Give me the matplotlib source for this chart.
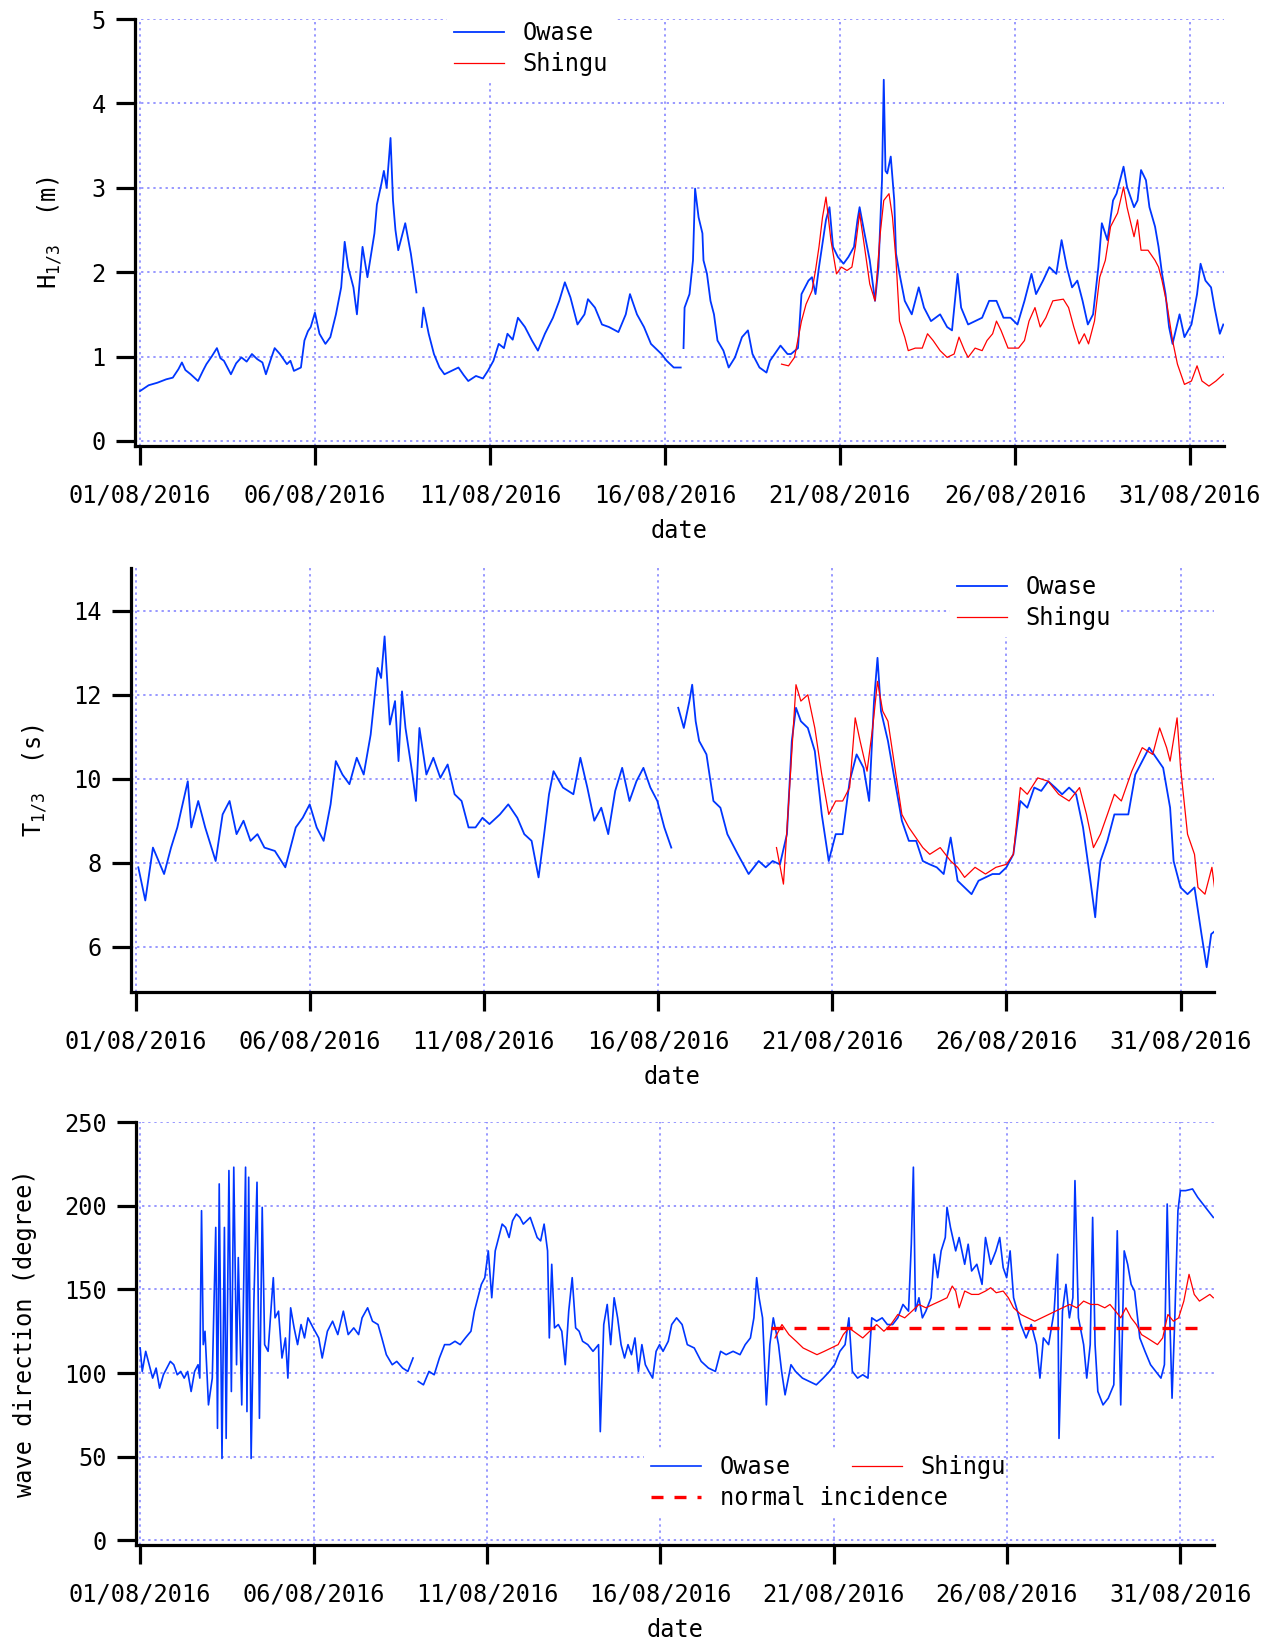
import numpy as np
import matplotlib.pyplot as plt

plt.rcParams['font.family'] = 'DejaVu Sans Mono'
plt.rcParams['font.size'] = 17
plt.rcParams['mathtext.fontset'] = 'custom'
plt.rcParams['mathtext.tt'] = 'DejaVu Sans Mono'
plt.rcParams['mathtext.rm'] = 'DejaVu Sans Mono'

nan = np.nan

# x axis: days since 01/08/2016 00:00
date_ticks = [0, 5, 10, 15, 20, 25, 30]
date_labels = ['01/08/2016', '06/08/2016', '11/08/2016', '16/08/2016',
               '21/08/2016', '26/08/2016', '31/08/2016']

# --- significant wave height H1/3 (m) ---
t_h_owase = [0.0, 0.25, 0.5, 0.75, 0.94, 1.1, 1.2, 1.3, 1.45, 1.66, 1.8, 1.9, 2.05, 2.2, 2.3,
             2.4, 2.6, 2.75, 2.9, 3.05, 3.2, 3.35, 3.5, 3.6, 3.75, 3.85, 4.0, 4.2, 4.3, 4.4,
             4.6, 4.7, 4.8, 4.88, 5.0, 5.13, 5.3, 5.44, 5.6, 5.75, 5.85, 5.95, 6.1, 6.2, 6.36,
             6.5, 6.6, 6.7, 6.77, 6.9, 6.97, 7.05, 7.16, 7.23, 7.3, 7.38, 7.5, 7.58, 7.74, 7.9,
             7.95, 8.05, 8.1, 8.25, 8.4, 8.56, 8.7, 8.9, 9.1, 9.25, 9.38, 9.6, 9.8, 9.94, 10.1,
             10.25, 10.4, 10.5, 10.65, 10.8, 11.0, 11.2, 11.37, 11.57, 11.8, 11.98, 12.14, 12.3,
             12.5, 12.7, 12.8, 13.0, 13.2, 13.4, 13.67, 13.88, 14.0, 14.2, 14.4, 14.6, 14.9,
             15.05, 15.25, 15.45, 15.5, 15.53, 15.56, 15.7, 15.8, 15.86, 15.96, 16.07, 16.1,
             16.2, 16.3, 16.4, 16.5, 16.67, 16.82, 17.0, 17.2, 17.37, 17.5, 17.7, 17.9, 18.0,
             18.2, 18.3, 18.5, 18.6, 18.8, 18.9, 19.1, 19.2, 19.3, 19.4, 19.6, 19.7, 19.8,
             19.94, 20.1, 20.24, 20.4, 20.5, 20.56, 20.7, 20.85, 21.0, 21.1, 21.2, 21.25, 21.3,
             21.35, 21.45, 21.55, 21.6, 21.7, 21.85, 22.05, 22.25, 22.4, 22.6, 22.86, 23.06,
             23.2, 23.36, 23.46, 23.66, 23.86, 24.06, 24.26, 24.47, 24.67, 24.87, 25.07, 25.27,
             25.47, 25.6, 25.8, 25.98, 26.18, 26.33, 26.48, 26.63, 26.78, 26.93, 27.08, 27.23,
             27.38, 27.48, 27.64, 27.8, 27.9, 28.1, 28.2, 28.4, 28.5, 28.6, 28.74, 28.84, 29.0,
             29.1, 29.2, 29.3, 29.4, 29.5, 29.7, 29.84, 30.04, 30.2, 30.3, 30.44, 30.6, 30.7,
             30.85, 30.95]
h_owase = [0.59, 0.66, 0.69, 0.73, 0.75, 0.85, 0.93, 0.84, 0.79, 0.71, 0.83, 0.91, 1.0, 1.1, 0.98,
           0.95, 0.79, 0.92, 0.99, 0.94, 1.03, 0.97, 0.93, 0.79, 0.98, 1.1, 1.03, 0.91, 0.95, 0.83,
           0.87, 1.19, 1.3, 1.35, 1.52, 1.27, 1.15, 1.23, 1.5, 1.82, 2.36, 2.06, 1.82, 1.5, 2.3,
           1.94, 2.2, 2.46, 2.8, 3.05, 3.2, 3.0, 3.59, 2.85, 2.5, 2.26, 2.45, 2.58, 2.22, 1.76,
           nan, 1.35, 1.58, 1.27, 1.03, 0.87, 0.79, 0.83, 0.87, 0.78, 0.71, 0.77, 0.74, 0.83, 0.95,
           1.15, 1.1, 1.27, 1.2, 1.46, 1.35, 1.19, 1.07, 1.27, 1.46, 1.66, 1.88, 1.7,
           1.38, 1.5, 1.68, 1.58, 1.38, 1.35, 1.29, 1.5, 1.74, 1.5, 1.35, 1.15, 1.03,
           0.95, 0.87, 0.87, nan, 1.1, 1.58, 1.74, 2.14, 2.99, 2.65, 2.46, 2.14,
           1.98, 1.66, 1.5, 1.19, 1.07, 0.87, 0.99, 1.23, 1.31, 1.03, 0.87, 0.81, 0.95,
           1.07, 1.13, 1.03, 1.03, 1.1, 1.74, 1.9, 1.94, 1.74, 2.06, 2.62, 2.77, 2.3,
           2.18, 2.1, 2.18, 2.3, 2.62, 2.77, 2.46, 2.14, 1.66, 2.06, 3.09, 4.28, 3.2,
           3.17, 3.37, 2.85, 2.22, 1.98, 1.66, 1.5, 1.82, 1.58, 1.42, 1.5, 1.35,
           1.31, 1.98, 1.58, 1.38, 1.42, 1.46, 1.66, 1.66, 1.46, 1.46, 1.38, 1.66,
           1.98, 1.74, 1.9, 2.06, 1.98, 2.38, 2.06, 1.82, 1.9, 1.66, 1.38, 1.5,
           2.06, 2.58, 2.38, 2.85, 2.93, 3.25, 3.01, 2.77, 2.85, 3.21, 3.09, 2.77, 2.54,
           2.3, 1.98, 1.74, 1.35, 1.15, 1.5, 1.23, 1.38, 1.74, 2.1, 1.9, 1.82, 1.58,
           1.27, 1.38]

t_h_shingu = [18.33, 18.53, 18.7, 18.9, 19.03, 19.2, 19.3, 19.4, 19.5, 19.6, 19.74, 19.9, 20.04,
              20.2, 20.34, 20.44, 20.56, 20.7, 20.85, 21.0, 21.15, 21.25, 21.4, 21.5, 21.6, 21.7,
              21.85, 21.95, 22.15, 22.35, 22.5, 22.66, 22.86, 23.06, 23.26, 23.4, 23.56, 23.66,
              23.86, 24.06, 24.2, 24.36, 24.47, 24.6, 24.8, 24.97, 25.1, 25.27, 25.4, 25.57,
              25.72, 25.88, 26.08, 26.38, 26.53, 26.68, 26.83, 26.98, 27.1, 27.27, 27.42, 27.58,
              27.73, 27.93, 28.1, 28.2, 28.4, 28.5, 28.6, 28.8, 29.0, 29.1, 29.2, 29.34, 29.5,
              29.64, 29.84, 30.04, 30.2, 30.34, 30.54, 30.74, 30.95]
h_shingu = [0.91, 0.89, 0.99, 1.42, 1.62, 1.78, 2.02, 2.3, 2.65, 2.89, 2.38, 1.98, 2.06,
            2.02, 2.06, 2.3, 2.7, 2.3, 1.86, 1.66, 2.46, 2.85, 2.93, 2.65, 2.14, 1.42,
            1.23, 1.07, 1.1, 1.1, 1.27, 1.19, 1.07, 0.99, 1.03, 1.23, 1.07, 0.99,
            1.1, 1.07, 1.19, 1.27, 1.42, 1.31, 1.1, 1.1, 1.1, 1.19, 1.42, 1.58,
            1.35, 1.46, 1.66, 1.68, 1.58, 1.35, 1.15, 1.27, 1.15, 1.42, 1.94, 2.14,
            2.54, 2.7, 3.01, 2.77, 2.42, 2.62, 2.26, 2.26, 2.14, 2.06, 1.9, 1.62, 1.19,
            0.91, 0.67, 0.71, 0.89, 0.71, 0.65, 0.71, 0.79]

# --- significant wave period T1/3 (s) ---
t_t_owase = [0.08, 0.28, 0.5, 0.82, 1.02, 1.2, 1.5, 1.6, 1.8, 2.0, 2.3, 2.5, 2.7, 2.9, 3.1, 3.3,
             3.5, 3.7, 4.0, 4.3, 4.6, 4.8, 5.0, 5.2, 5.4, 5.6, 5.75, 5.94, 6.14, 6.35, 6.55, 6.75,
             6.95, 7.05, 7.15, 7.3, 7.45, 7.55, 7.65, 7.75, 7.95, 8.05, 8.15, 8.35, 8.55, 8.75,
             8.96, 9.16, 9.36, 9.56, 9.76, 9.96, 10.16, 10.46, 10.7, 10.96, 11.16, 11.37, 11.57,
             11.73, 11.87, 12.0, 12.27, 12.57, 12.77, 12.97, 13.17, 13.37, 13.57, 13.77, 13.97,
             14.18, 14.38, 14.58, 14.78, 14.98, 15.18, 15.38, 15.48, 15.58, 15.74, 15.9, 15.98,
             16.08, 16.18, 16.39, 16.59, 16.79, 16.99, 17.29, 17.6, 17.89, 18.09, 18.29, 18.5,
             18.7, 18.84, 18.96, 19.1, 19.3, 19.5, 19.7, 19.9, 20.1, 20.3, 20.5, 20.7, 20.9,
             21.06, 21.2, 21.3, 21.4, 21.6, 21.8, 22.0, 22.2, 22.41, 22.6, 22.8, 23.0, 23.2,
             23.4, 23.6, 23.8, 24.0, 24.2, 24.4, 24.6, 24.8, 25.0, 25.2, 25.4, 25.6, 25.8, 26.0,
             26.2, 26.4, 26.6, 26.8, 27.0, 27.2, 27.4, 27.55, 27.6, 27.7, 27.9, 28.1, 28.3, 28.5,
             28.7, 28.9, 29.1, 29.3, 29.5, 29.7, 29.8, 30.0, 30.2, 30.4, 30.6, 30.75, 30.88, 31.0]
t_owase = [7.89, 7.1, 8.36, 7.73, 8.36, 8.84, 9.94, 8.84, 9.47, 8.84, 8.04, 9.15, 9.47, 8.68, 9.0,
           8.52, 8.68, 8.36, 8.28, 7.89, 8.84, 9.07, 9.39, 8.84, 8.52, 9.39, 10.42, 10.1, 9.87, 10.5,
           10.1, 11.05, 12.64, 12.4, 13.39, 11.29, 11.85, 10.42, 12.08, 11.21, 10.1, 9.47, 11.21,
           10.1, 10.5, 10.02, 10.34, 9.63, 9.47, 8.84, 8.84, 9.07, 8.92, 9.15, 9.39, 9.07, 8.68,
           8.52, 7.65, 8.68, 9.63, 10.18, 9.79, 9.63, 10.5, 9.79, 9.0, 9.31, 8.68, 9.71, 10.26,
           9.47, 9.94, 10.26, 9.79, 9.47, 8.84, 8.36, nan, 11.69, 11.21, 11.85, 12.24, 11.37,
           10.9, 10.58, 9.47, 9.31, 8.68, 8.2, 7.73, 8.04, 7.89, 8.04, 7.96, 8.68, 10.9, 11.69,
           11.37, 11.21, 10.66, 9.15, 8.04, 8.68, 8.68, 9.94, 10.58, 10.26, 9.47, 11.85, 12.88,
           11.61, 10.9, 9.94, 9.0, 8.52, 8.52, 8.04, 7.96, 7.89, 7.73, 8.6, 7.57, 7.41, 7.25,
           7.57, 7.65, 7.73, 7.73, 7.89, 8.2, 9.47, 9.31, 9.79, 9.71, 9.94, 9.79, 9.63, 9.79,
           9.63, 8.84, 7.65, 6.7, 7.25, 8.04, 8.52, 9.15, 9.15, 9.15, 10.1, 10.42, 10.74, 10.5,
           10.26, 9.31, 8.04, 7.41, 7.25, 7.41, 6.3, 5.51, 6.3, 6.38]

t_t_shingu = [18.4, 18.6, 18.8, 18.96, 19.1, 19.3, 19.5, 19.7, 19.9, 20.1, 20.3, 20.5, 20.66,
              20.8, 21.0, 21.16, 21.3, 21.45, 21.6, 21.8, 22.0, 22.2, 22.4, 22.6, 22.8, 23.1,
              23.4, 23.6, 23.8, 24.1, 24.4, 24.7, 25.0, 25.2, 25.4, 25.6, 25.9, 26.2, 26.5,
              26.8, 27.1, 27.3, 27.5, 27.7, 27.9, 28.1, 28.3, 28.6, 28.9, 29.2, 29.4, 29.6,
              29.7, 29.9, 30.0, 30.2, 30.4, 30.5, 30.7, 30.9, 31.0]
t_shingu = [8.36, 7.49, 10.1, 12.24, 11.85, 12.0, 11.21, 10.1, 9.15, 9.47, 9.47, 9.79, 11.45,
            10.9, 10.18, 11.21, 12.32, 11.61, 11.37, 10.26, 9.15, 8.84, 8.6, 8.36, 8.2, 8.36,
            8.04, 7.89, 7.65, 7.89, 7.73, 7.89, 7.96, 8.2, 9.79, 9.63, 10.02, 9.94, 9.63,
            9.47, 9.79, 9.15, 8.36, 8.68, 9.15, 9.63, 9.47, 10.18, 10.74, 10.58, 11.21, 10.74,
            10.42, 11.45, 10.26, 8.68, 8.2, 7.41, 7.25, 7.89, 7.25]

# --- wave direction (degree) ---
t_d_owase = [0.0, 0.06, 0.16, 0.26, 0.36, 0.46, 0.56, 0.67, 0.77, 0.87, 0.97, 1.07, 1.17, 1.27,
             1.37, 1.47, 1.57, 1.67, 1.72, 1.77, 1.82, 1.87, 1.97, 2.08, 2.18, 2.23, 2.28, 2.36,
             2.43, 2.48, 2.56, 2.63, 2.7, 2.78, 2.83, 2.93, 3.04, 3.08, 3.13, 3.2, 3.28, 3.37,
             3.44, 3.52, 3.59, 3.69, 3.79, 3.84, 3.89, 3.99, 4.09, 4.19, 4.26, 4.34, 4.44, 4.54,
             4.64, 4.74, 4.84, 4.99, 5.15, 5.25, 5.4, 5.55, 5.7, 5.86, 6.0, 6.16, 6.3, 6.4, 6.56,
             6.7, 6.86, 6.97, 7.1, 7.27, 7.4, 7.57, 7.72, 7.87, 7.95, 8.02, 8.17, 8.33, 8.48,
             8.63, 8.78, 8.93, 9.08, 9.23, 9.38, 9.54, 9.64, 9.74, 9.84, 9.94, 10.04, 10.14,
             10.24, 10.34, 10.44, 10.54, 10.64, 10.74, 10.85, 10.95, 11.05, 11.15, 11.25, 11.35,
             11.45, 11.55, 11.65, 11.75, 11.8, 11.87, 11.95, 12.06, 12.16, 12.26, 12.36, 12.46,
             12.56, 12.66, 12.76, 12.91, 13.06, 13.22, 13.27, 13.37, 13.47, 13.57, 13.67, 13.77,
             13.87, 13.97, 14.07, 14.17, 14.27, 14.37, 14.47, 14.57, 14.67, 14.78, 14.88, 14.98,
             15.08, 15.23, 15.33, 15.47, 15.63, 15.78, 15.98, 16.18, 16.39, 16.59, 16.74, 16.9,
             17.1, 17.3, 17.45, 17.6, 17.7, 17.78, 17.85, 17.95, 18.06, 18.16, 18.26, 18.41,
             18.5, 18.6, 18.77, 18.9, 19.1, 19.3, 19.5, 19.7, 19.88, 20.03, 20.18, 20.33, 20.44,
             20.54, 20.69, 20.84, 20.99, 21.1, 21.24, 21.4, 21.55, 21.7, 21.85, 22.0, 22.16,
             22.24, 22.3, 22.36, 22.46, 22.56, 22.66, 22.81, 22.9, 23.0, 23.1, 23.22, 23.27,
             23.37, 23.52, 23.62, 23.78, 23.88, 23.98, 24.13, 24.28, 24.38, 24.53, 24.68, 24.79,
             24.89, 24.99, 25.09, 25.19, 25.3, 25.4, 25.55, 25.7, 25.85, 25.95, 26.05, 26.2,
             26.36, 26.46, 26.5, 26.6, 26.7, 26.8, 26.9, 26.96, 27.06, 27.21, 27.3, 27.4, 27.47,
             27.54, 27.62, 27.77, 27.92, 28.08, 28.18, 28.28, 28.38, 28.48, 28.58, 28.68, 28.83,
             28.98, 29.14, 29.29, 29.44, 29.54, 29.62, 29.69, 29.76, 29.84, 29.93, 30.0, 30.15,
             30.35, 30.5, 30.65, 30.8, 30.95]
d_owase = [115, 101, 113, 105, 97, 103, 91, 99, 103, 107, 105, 99, 101, 97,
           101, 89, 101, 105, 97, 197, 117, 125, 81, 97, 187, 67, 213, 49,
           187, 61, 221, 89, 223, 105, 169, 81, 223, 77, 217, 49, 143, 214,
           73, 199, 117, 113, 143, 157, 133, 137, 109, 121, 97, 139, 127, 117,
           129, 121, 133, 127, 121, 109, 125, 131, 123, 137, 123, 127, 123, 133, 139,
           131, 129, 121, 111, 105, 107, 103, 101, 109, nan, 95, 93, 101, 99,
           109, 117, 117, 119, 117, 121, 125, 137, 145, 153, 157, 173, 145,
           173, 181, 189, 187, 181, 191, 195, 193, 189, 191, 193, 187,
           181, 179, 189, 173, 121, 165, 127, 129, 125, 105, 137, 157,
           127, 125, 119, 117, 113, 117, 65, 129, 141, 117, 145, 133,
           117, 109, 117, 111, 121, 101, 117, 105, 101, 97, 113, 117,
           113, 119, 129, 133, 129, 117, 115, 107, 103, 101, 113, 111,
           113, 111, 117, 121, 133, 157, 145, 133, 81, 117, 133, 117,
           101, 87, 105, 101, 97, 95, 93, 97, 101, 105, 113, 117, 133,
           101, 97, 99, 97, 133, 131, 133, 129, 129, 133, 141, 137,
           177, 223, 137, 145, 133, 137, 145, 171, 157, 173, 181, 199,
           187, 173, 181, 165, 177, 161, 165, 153, 181, 165, 173, 181,
           163, 157, 173, 145, 137, 129, 121, 129, 117, 97, 121, 117,
           137, 171, 61, 137, 153, 133, 145, 215, 133, 117, 97, 117, 193,
           117, 89, 81, 85, 93, 185, 81, 173, 165, 153, 149, 121,
           113, 105, 101, 97, 105, 201, 137, 85, 133, 197, 209, 209,
           210, 205, 201, 197, 193]

t_d_shingu = [18.31, 18.51, 18.71, 18.92, 19.12, 19.32, 19.52, 19.73, 19.93, 20.13, 20.28, 20.44,
              20.64, 20.84, 21.04, 21.24, 21.45, 21.65, 21.85, 22.05, 22.26, 22.46, 22.66,
              22.86, 23.07, 23.27, 23.42, 23.52, 23.62, 23.78, 23.98, 24.18, 24.38, 24.53,
              24.69, 24.89, 25.04, 25.19, 25.4, 25.6, 25.8, 26.0, 26.2, 26.4, 26.6, 26.81,
              27.01, 27.21, 27.42, 27.62, 27.82, 27.97, 28.13, 28.28, 28.43, 28.58, 28.73,
              28.88, 29.04, 29.19, 29.34, 29.49, 29.64, 29.8, 29.95, 30.1, 30.25, 30.4, 30.55,
              30.7, 30.85, 30.95]
d_shingu = [121, 129, 123, 119, 115, 113, 111, 113, 115, 117, 123, 127,
            124, 121, 125, 129, 125, 129, 135, 133, 137, 141, 139,
            141, 143, 145, 152, 149, 139, 149, 147, 147, 149, 151,
            148, 149, 145, 139, 135, 133, 131, 133, 135, 137, 139, 141,
            139, 143, 141, 141, 139, 141, 137, 133, 139, 133, 129,
            123, 121, 119, 117, 121, 135, 131, 133, 143, 159, 147, 143,
            145, 147, 145]

t_normal = [18.2, 30.7]
d_normal = [127, 127]

BLUE = '#0036ff'
RED = '#ff0000'
GRID = '#7c7cff'
W, H = 1279, 1645

fig = plt.figure(figsize=(W / 100, H / 100), dpi=100)


def add_axes_px(left, top, right, bottom):
    return fig.add_axes([left / W, 1 - bottom / H, (right - left) / W, (bottom - top) / H])


def style(ax, xlim, ylim, yticks, ylabel, ylabel_x):
    ax.set_xlim(*xlim)
    ax.set_ylim(*ylim)
    ax.set_xticks(date_ticks)
    ax.set_xticklabels(date_labels)
    ax.set_yticks(yticks)
    for s in ['top', 'right']:
        ax.spines[s].set_visible(False)
    for s in ['left', 'bottom']:
        ax.spines[s].set_linewidth(2.3)
    ax.tick_params(direction='out', length=14, width=2.3)
    ax.tick_params(axis='x', pad=13)
    ax.tick_params(axis='y', pad=7)
    ax.grid(True, color=GRID, linestyle=(0, (1.5, 2.5)), linewidth=1.1)
    ax.set_axisbelow(True)
    ax.set_xlabel('date', labelpad=8)
    ax.set_ylabel(ylabel)
    ax.yaxis.set_label_coords(ylabel_x, 0.5)


def add_legend(ax, handles, labels, x, y, frame=True):
    leg = ax.legend(handles, labels, loc='upper left', bbox_to_anchor=(x / W, 1 - y / H),
                    bbox_transform=fig.transFigure, frameon=frame, framealpha=1,
                    facecolor='white', edgecolor='none', fancybox=False,
                    handlelength=2.1, handletextpad=0.8, labelspacing=0.3,
                    borderpad=0.3, borderaxespad=0)
    leg.set_zorder(5)
    return leg


# panel 1: H1/3
ax1 = add_axes_px(135, 19, 1224, 446)
l1, = ax1.plot(t_h_owase, h_owase, color=BLUE, lw=1.3)
l2, = ax1.plot(t_h_shingu, h_shingu, color=RED, lw=0.9)
style(ax1, (-0.14, 30.97), (-0.06, 5), [0, 1, 2, 3, 4, 5],
      r'$\mathtt{H_{1/3}}$  (m)', (64 - 135) / 1089)
add_legend(ax1, [l1, l2], ['Owase', 'Shingu'], 447, 14)

# panel 2: T1/3
ax2 = add_axes_px(131, 568, 1214, 992)
m1, = ax2.plot(t_t_owase, t_owase, color=BLUE, lw=1.3)
m2, = ax2.plot(t_t_shingu, t_shingu, color=RED, lw=0.9)
style(ax2, (-0.13, 30.96), (4.92, 15.02), [6, 8, 10, 12, 14],
      r'$\mathtt{T_{1/3}}$  (s)', (49 - 131) / 1083)
add_legend(ax2, [m1, m2], ['Owase', 'Shingu'], 950, 568)

# panel 3: wave direction
ax3 = add_axes_px(136, 1122, 1214, 1545)
n1, = ax3.plot(t_d_owase, d_owase, color=BLUE, lw=1.2)
n2, = ax3.plot(t_d_shingu, d_shingu, color=RED, lw=0.9)
n3, = ax3.plot(t_normal, d_normal, color=RED, lw=2.4, linestyle=(0, (3.6, 3.3)))
style(ax3, (-0.12, 30.97), (-2.7, 250), [0, 50, 100, 150, 200, 250],
      'wave direction (degree)', (37 - 136) / 1078)
leg_a = add_legend(ax3, [n1, n3], ['Owase', 'normal incidence'], 644, 1448)
leg_a.set_zorder(4)
ax3.add_artist(leg_a)
add_legend(ax3, [n2], ['Shingu'], 845, 1448, frame=False)

fig.savefig('out.png', dpi=100)
